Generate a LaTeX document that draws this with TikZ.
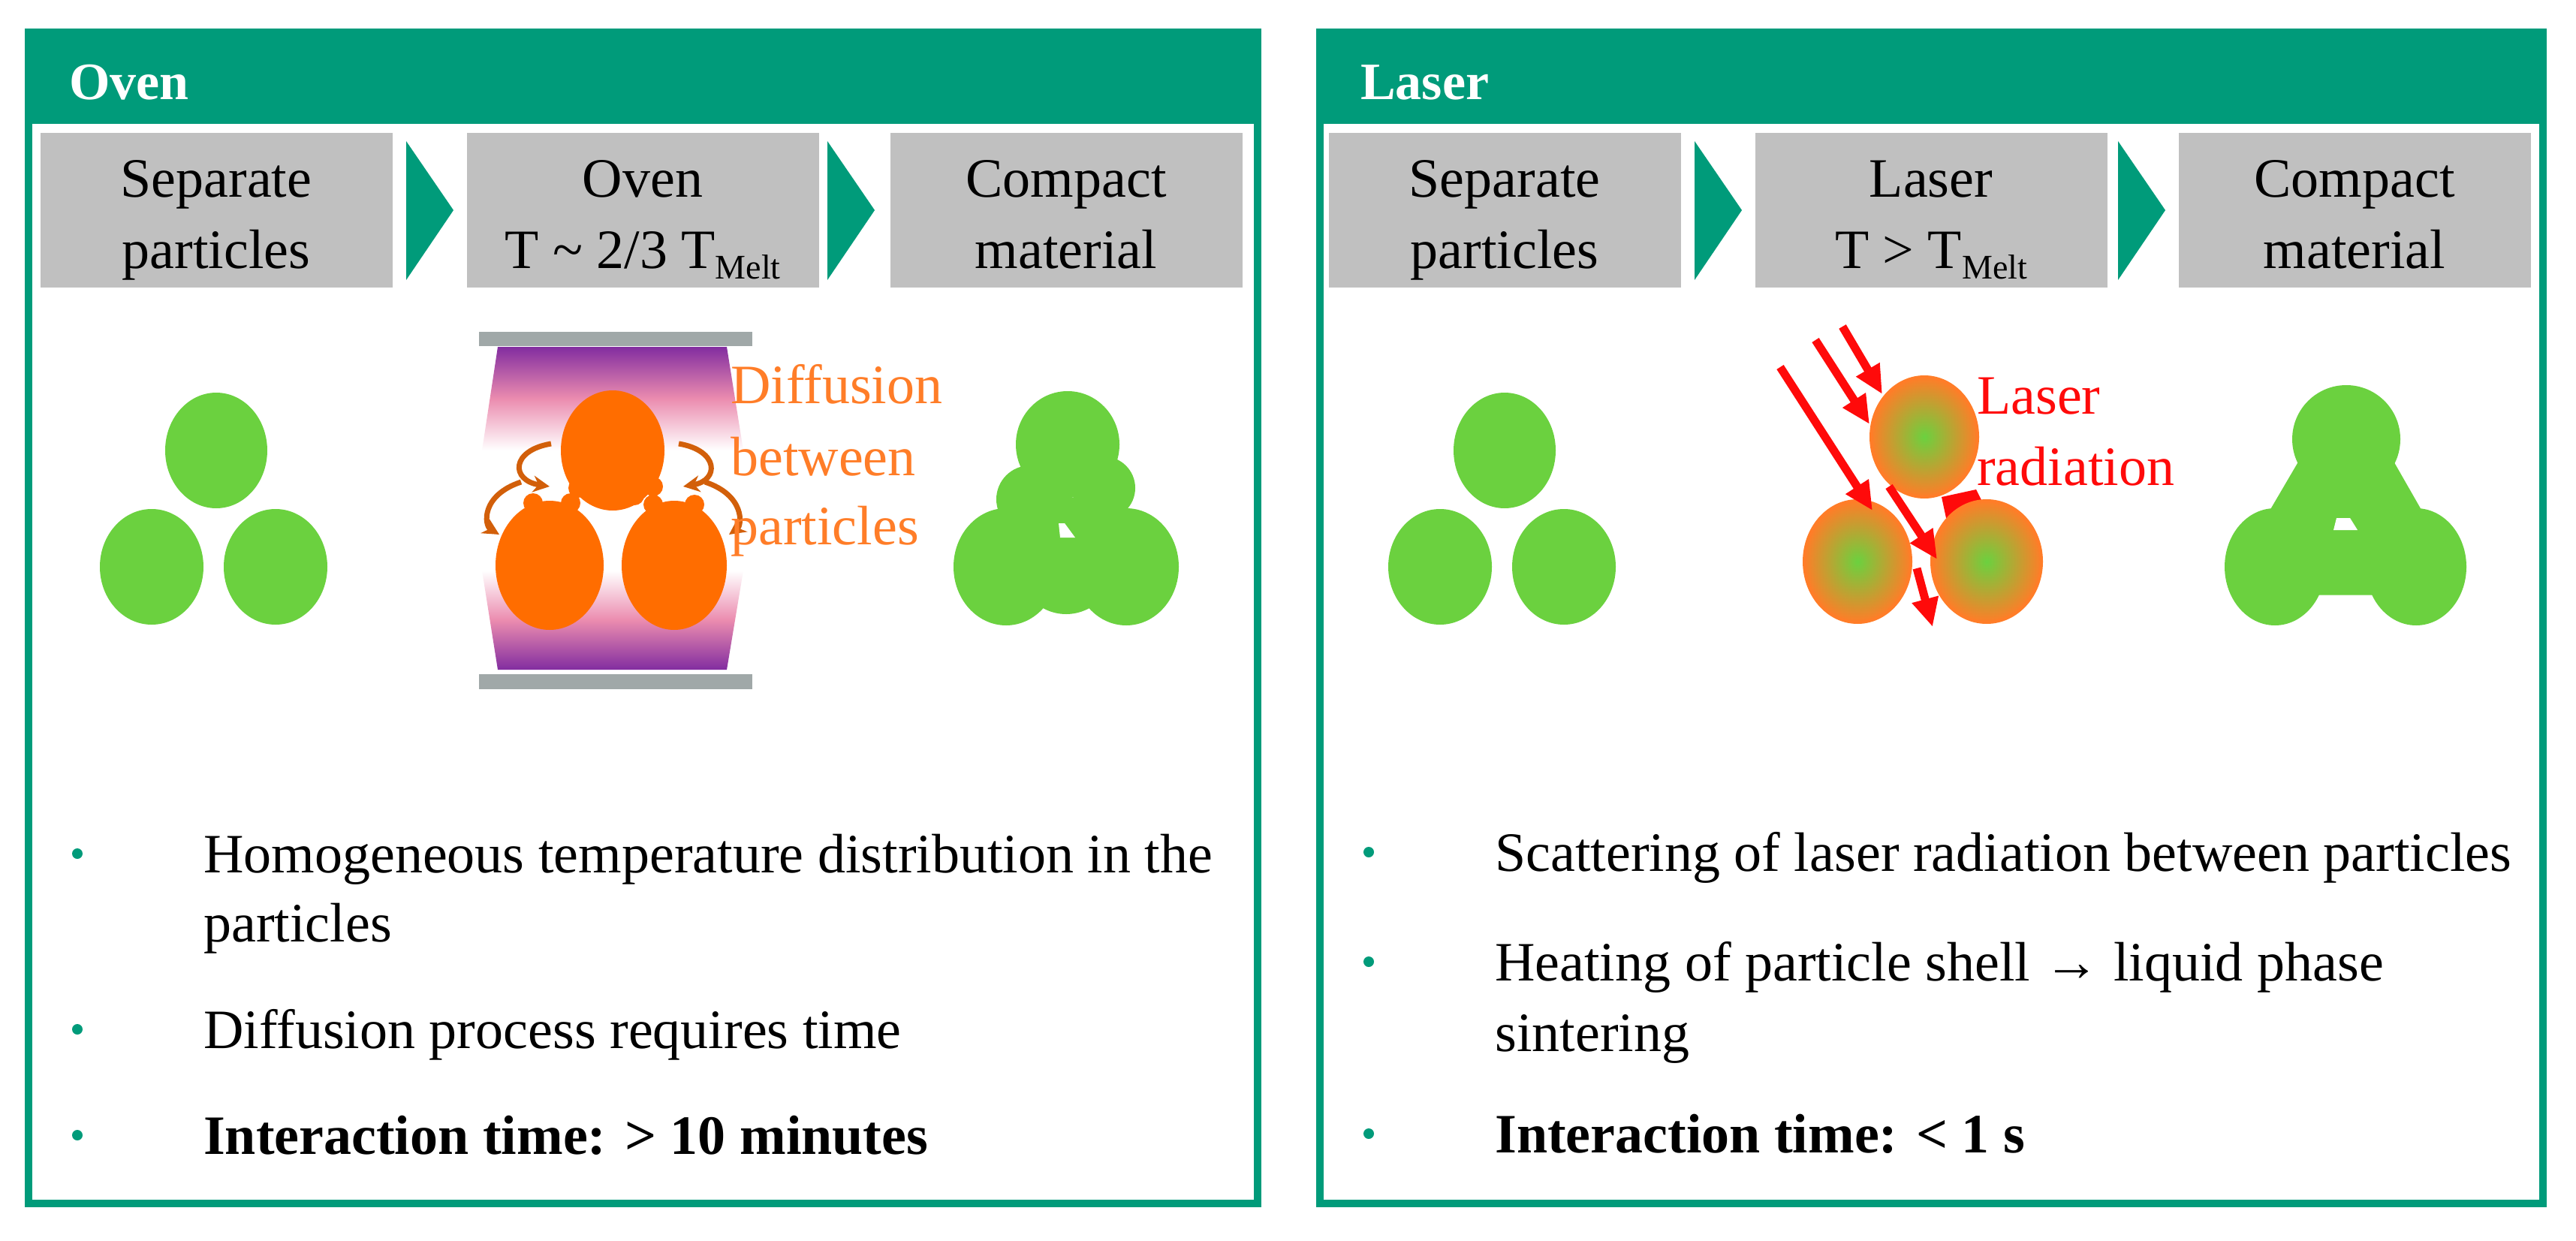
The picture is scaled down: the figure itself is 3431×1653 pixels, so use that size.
\documentclass[tikz,border=0pt]{standalone}
\usepackage{fontspec}
\setmainfont{Liberation Serif}
\usetikzlibrary{arrows.meta}
\definecolor{teal1}{RGB}{0,155,122}
\definecolor{boxg}{RGB}{192,192,192}
\definecolor{pgreen}{RGB}{107,209,63}
\definecolor{porange}{RGB}{255,109,0}
\definecolor{dorange}{RGB}{210,95,10}
\definecolor{tor}{RGB}{255,125,40}
\definecolor{purp}{RGB}{130,45,160}
\definecolor{pink1}{RGB}{235,140,175}
\definecolor{barg}{RGB}{160,168,168}
\definecolor{lred}{RGB}{255,10,10}
\begin{document}
\begin{tikzpicture}[x=1pt,y=-1pt,
  big/.style={font=\fontsize{74}{90}\selectfont},
  hdr/.style={font=\fontsize{70}{80}\selectfont\bfseries,text=white,anchor=base west,inner sep=0},
  btxt/.style={big,anchor=base west,inner sep=0},
  ctr/.style={big,anchor=base,inner sep=0},
  stepbox/.style={fill=boxg},
  tri/.style={fill=teal1},
  frame/.style={draw=teal1,line width=10pt},
  dot/.style={fill=teal1},
  part/.style={fill=pgreen},
  opart/.style={fill=porange},
  curv/.style={draw=dorange,line width=7pt,-{Stealth[length=22pt,width=22pt]}},
  ray/.style={draw=lred,line width=11pt,-{Triangle[length=38pt,width=34pt]}},
  orb/.style={inner color=pgreen,outer color=tor,draw=tor,line width=4pt},
]
\fill[white] (0,0) rectangle (3431,1653);
% ---------- panels
\foreach \ox/\w/\t/\n in {0/1647/Oven/po,1720/1639/Laser/pl}{
  \fill[teal1] (33+\ox,38) rectangle (33+\ox+\w,165);
  \draw[frame] (38+\ox,43) rectangle (28+\ox+\w,1603);
  \node[hdr] (\n) at (92+\ox,133) {\t};
}
% ---------- step boxes
\foreach \x in {54,622,1186,1770,2338,2902}{
  \fill[stepbox] (\x,177) rectangle (\x+469,383);
}
\foreach \x in {541,1102,2257,2821}{
  \fill[tri] (\x,188) -- (\x+63,280) -- (\x,373) -- cycle;
}
\node[ctr] (s1) at (288,263) {Separate};
\node[ctr] (s1b) at (288,357) {particles};
\node[ctr] (o1) at (856,263) {Oven};
\node[ctr] (o1b) at (856,357) {T \textasciitilde{} 2/3 T\raisebox{-14pt}{\fontsize{46}{46}\selectfont Melt}};
\node[ctr] (c1) at (1420,263) {Compact};
\node[ctr] (c1b) at (1420,357) {material};
\node[ctr] (s2) at (2004,263) {Separate};
\node[ctr] (s2b) at (2004,357) {particles};
\node[ctr] (l2) at (2572,263) {Laser};
\node[ctr] (l2b) at (2572,357) {T {>} T\raisebox{-14pt}{\fontsize{46}{46}\selectfont Melt}};
\node[ctr] (c2) at (3136,263) {Compact};
\node[ctr] (c2b) at (3136,357) {material};
% ---------- separate particles
\foreach \ox in {0,1716}{
  \fill[part] (288+\ox,600) ellipse [x radius=68,y radius=77];
  \fill[part] (202+\ox,755) ellipse [x radius=69,y radius=77];
  \fill[part] (367+\ox,755) ellipse [x radius=69,y radius=77];
}
% ---------- oven
\shade[top color=purp,bottom color=white,middle color=pink1] (663,462) -- (968,462) -- (990,600) -- (642,600) -- cycle;
\shade[top color=white,bottom color=purp,middle color=pink1] (642,760) -- (990,760) -- (968,892) -- (663,892) -- cycle;
\fill[barg] (638,442) rectangle (1002,461);
\fill[barg] (638,898) rectangle (1002,918);
\fill[opart] (816,600) ellipse [x radius=69,y radius=80];
\fill[opart] (732,753) ellipse [x radius=72,y radius=86];
\fill[opart] (898,753) ellipse [x radius=70,y radius=86];
\foreach \a/\b in {770/650,800/662,845/660,870/648,710/670,760/670,870/672,925/672}{
  \fill[opart] (\a,\b) circle (13);
}
\path[curv] (734,591) .. controls (680,600) and (680,640) .. (732,648);
\path[curv] (694,642) .. controls (640,660) and (645,700) .. (665,712);
\path[curv] (904,591) .. controls (958,600) and (958,640) .. (910,648);
\path[curv] (939,642) .. controls (993,660) and (988,700) .. (971,712);
\node[big,text=tor,anchor=base west,inner sep=0] (d1) at (973,537) {Diffusion};
\node[big,text=tor,anchor=base west,inner sep=0] (d2) at (973,633) {between};
\node[big,text=tor,anchor=base west,inner sep=0] (d3) at (973,725) {particles};
% ---------- compact (oven)
\fill[part] (1422,592) ellipse [x radius=69,y radius=71];
\fill[part] (1470,650) circle (42);
\fill[part] (1340,755) ellipse [x radius=70,y radius=78];
\fill[part] (1500,755) ellipse [x radius=70,y radius=78];
\fill[part] (1420,740) ellipse [x radius=70,y radius=78];
\fill[part] (1372,665) circle (45);
\fill[white] (1410,697) -- (1418,697) -- (1432,716) -- (1412,716) -- cycle;
% ---------- laser
\fill[lred] (2586,662) -- (2632,652) -- (2650,688) -- (2615,722) -- (2592,690) -- cycle;
\shade[orb] (2563,582) ellipse [x radius=71,y radius=80];
\shade[orb] (2474,748) ellipse [x radius=71,y radius=81];
\shade[orb] (2646,748) ellipse [x radius=73,y radius=81];
\coordinate (r1s) at (2454,435); \coordinate (r1e) at (2507,525);
\coordinate (r2s) at (2418,453); \coordinate (r2e) at (2490,565);
\coordinate (r3s) at (2371,489); \coordinate (r3e) at (2494,680);
\coordinate (r4s) at (2516,648); \coordinate (r4e) at (2580,745);
\coordinate (r5s) at (2553,757); \coordinate (r5e) at (2574,835);
\draw[ray] (r1s) -- (r1e);
\draw[ray] (r2s) -- (r2e);
\draw[ray] (r3s) -- (r3e);
\draw[ray] (r4s) -- (r4e);
\draw[ray] (r5s) -- (r5e);
\node[big,text=lred,anchor=base west,inner sep=0] (lr1) at (2633,551) {Laser};
\node[big,text=lred,anchor=base west,inner sep=0] (lr2) at (2633,646) {radiation};
% ---------- compact (laser)
\fill[part] (3125,585) ellipse [x radius=72,y radius=72];
\fill[part] (3030,755) ellipse [x radius=67,y radius=78];
\fill[part] (3218,755) ellipse [x radius=67,y radius=78];
\draw[pgreen,line width=95pt,line cap=round,line join=round] (3125,600) -- (3040,745) -- (3208,745) -- cycle;
\fill[white] (3112,690) -- (3130,690) -- (3140,706) -- (3108,706) -- cycle;
% ---------- bullets
\foreach \y in {1162,1396,1537}{ \fill[dot] (103,\y-25) circle (7); }
\foreach \y in {1160,1306,1535}{ \fill[dot] (1823,\y-25) circle (7); }
\node[btxt] (t1) at (271,1162) {Homogeneous temperature distribution in the};
\node[btxt] (t1b) at (271,1254) {particles};
\node[btxt] (t2) at (271,1396) {Diffusion process requires time};
\node[btxt,font=\fontsize{74}{90}\selectfont\bfseries] (t3) at (271,1537) {Interaction time: {>} 10 minutes};
\node[btxt] (u1) at (1991,1160) {Scattering of laser radiation between particles};
\node[btxt] (u2) at (1991,1306) {Heating of particle shell \textbf{→} liquid phase};
\node[btxt] (u2b) at (1991,1400) {sintering};
\node[btxt,font=\fontsize{74}{90}\selectfont\bfseries] (u3) at (1991,1535) {Interaction time: {<} 1 s};
\end{tikzpicture}
\end{document}
